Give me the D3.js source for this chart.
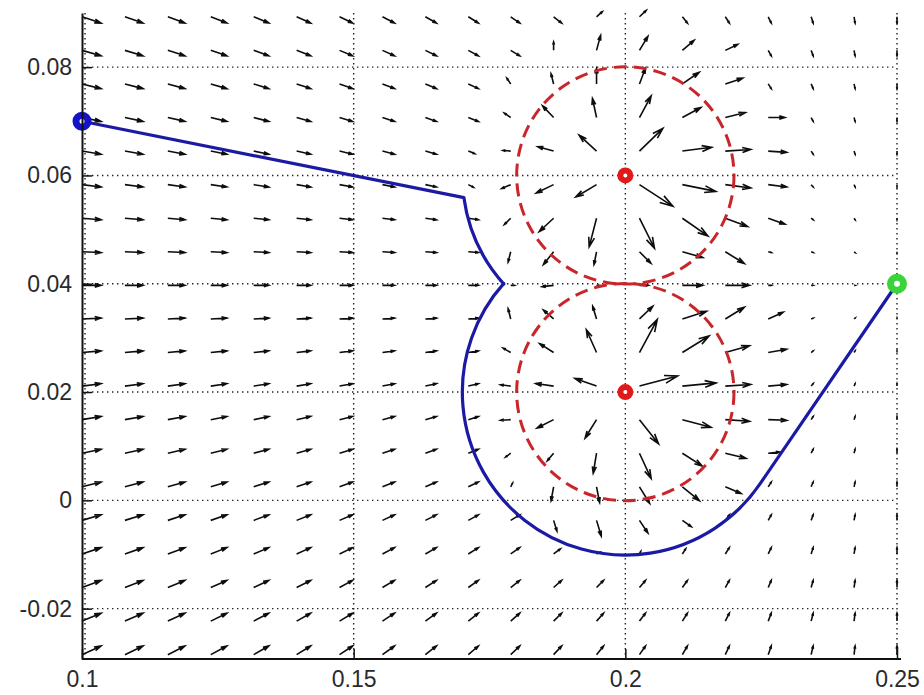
<!DOCTYPE html>
<html>
<head>
<meta charset="utf-8">
<script src="https://cdn.jsdelivr.net/npm/d3@7"></script>
<style>
  html, body { margin: 0; padding: 0; background: #fff; }
  svg { display: block; }
  .tick text { font-family: "Liberation Sans", Arial, sans-serif; font-size: 23px; fill: #2a2a2a; }
</style>
</head>
<body>
<svg id="chart" width="924" height="695"></svg>
<script>
// quiver grid (tail positions)
const xGrid = [0.1, 0.1079, 0.1158, 0.1237, 0.1316, 0.1395, 0.1474, 0.1553, 0.1632, 0.1711,
  0.1789, 0.1868, 0.1947, 0.2026, 0.2105, 0.2184, 0.2263, 0.2342, 0.2421, 0.25];
const yGrid = [0.0893, 0.0831, 0.0769, 0.0707, 0.0645, 0.0583, 0.0521, 0.0459, 0.0397, 0.0335,
  0.0273, 0.0211, 0.0149, 0.0087, 0.0025, -0.0037, -0.0099, -0.0161, -0.0223, -0.0285];

// far-field components: u per column, v per row
const uCol = [0.15, 0.1421, 0.1342, 0.1263, 0.1184, 0.1105, 0.1026, 0.0947, 0.0868, 0.0789,
  0.0711, 0.0632, 0.0553, 0.0474, 0.0395, 0.0316, 0.0237, 0.0158, 0.0079, 0];
const vRow = [-0.0493, -0.0431, -0.0369, -0.0307, -0.0245, -0.0183, -0.0121, -0.0059, 0.0003, 0.0065,
  0.0127, 0.0189, 0.0251, 0.0313, 0.0375, 0.0437, 0.0499, 0.0561, 0.0623, 0.0685];

// arrows around the obstacles: [col, row, u, v]
const nearField = [
  [9, 4, 0.05, -0.02], [9, 5, 0.04, -0.02],
  [10, 2, -0.03, 0.045], [10, 3, -0.05, 0.035], [10, 4, -0.06, 0.005], [10, 5, -0.07, -0.03],
  [10, 6, -0.05, -0.05], [10, 7, -0.02, -0.08], [10, 8, 0.03, 0], [10, 9, -0.02, 0.08],
  [10, 10, -0.06, 0.035], [10, 11, -0.08, 0.01], [10, 12, -0.08, -0.005], [10, 13, -0.04, -0.03],
  [10, 14, 0.015, 0.03],
  [11, 1, 0, 0.066], [11, 2, -0.02, 0.08], [11, 3, -0.087, 0.092], [11, 4, -0.124, 0.034],
  [11, 5, -0.137, -0.066], [11, 6, -0.113, -0.105], [11, 7, -0.08, -0.1], [11, 8, -0.09, -0.01],
  [11, 9, -0.08, 0.07], [11, 10, -0.11, 0.07], [11, 11, -0.14, 0.02], [11, 12, -0.13, -0.066],
  [11, 13, -0.05, -0.06], [11, 14, -0.02, -0.11], [11, 15, 0.026, -0.084], [11, 16, 0.053, 0.04],
  [12, 0, 0.045, 0.04], [12, 1, 0.032, 0.118], [12, 2, 0, 0.124], [12, 3, -0.032, 0.15],
  [12, 4, -0.137, 0.126], [12, 5, -0.163, -0.097], [12, 6, -0.058, -0.226], [12, 7, -0.02, -0.1],
  [12, 8, 0.02, 0], [12, 9, -0.03, 0.1], [12, 10, -0.08, 0.18], [12, 11, -0.17, 0.06],
  [12, 12, -0.09, -0.145], [12, 13, -0.026, -0.158], [12, 14, 0.024, -0.124], [12, 15, 0.037, -0.124],
  [12, 16, 0.026, 0.013],
  [13, 0, 0.053, 0.05], [13, 1, 0.066, 0.111], [13, 2, 0.047, 0.124], [13, 3, 0.092, 0.171],
  [13, 4, 0.184, 0.179], [13, 5, 0.263, -0.171], [13, 6, 0.118, -0.237], [13, 7, 0.09, -0.09],
  [13, 8, 0.07, 0], [13, 9, 0.105, 0.1], [13, 10, 0.14, 0.26], [13, 11, 0.3, 0.08],
  [13, 12, 0.15, -0.19], [13, 13, 0.092, -0.2], [13, 14, 0.08, -0.13], [13, 15, 0.066, -0.1],
  [13, 16, 0.01, 0.02],
  [14, 1, 0.092, 0.079], [14, 2, 0.132, 0.092], [14, 3, 0.145, 0.079], [14, 4, 0.23, 0.03],
  [14, 5, 0.263, -0.053], [14, 6, 0.2, -0.14], [14, 7, 0.16, -0.045], [14, 8, 0.16, 0],
  [14, 9, 0.19, 0.06], [14, 10, 0.21, 0.13], [14, 11, 0.265, 0.025], [14, 12, 0.225, -0.06],
  [14, 13, 0.155, -0.1], [14, 14, 0.134, -0.11], [14, 15, 0.07, -0.05], [14, 16, 0.026, 0.04],
  [15, 1, 0.097, 0.047], [15, 2, 0.137, 0.045], [15, 3, 0.158, 0.039], [15, 4, 0.2, 0.013],
  [15, 5, 0.2, -0.026], [15, 6, 0.176, -0.066], [15, 7, 0.15, -0.092], [15, 8, 0.19, 0],
  [15, 9, 0.15, 0.092], [15, 10, 0.19, 0.053], [15, 11, 0.2, 0.013], [15, 12, 0.19, -0.013],
  [15, 13, 0.163, -0.04], [15, 14, 0.124, -0.053],
  [16, 3, 0.13, 0], [16, 4, 0.145, -0.01], [16, 5, 0.145, -0.018], [16, 6, 0.132, -0.047],
  [16, 9, 0.118, 0.053], [16, 10, 0.145, 0.026], [16, 11, 0.145, 0.013], [16, 12, 0.145, -0.005],
  [16, 13, 0.09, 0.01]
];

// obstacles (centre x, centre y), dashed radius
const obstacleX = [0.2, 0.2];
const obstacleY = [0.06, 0.02];
const obstacleR = 0.02;

// path: start, first contact, arcs [cx, cy, r, fromDeg, toDeg], goal
const startPt = [0.1, 0.07];
const contactPt = [0.1703, 0.0559];
const pathArcs = [
  [0.2, 0.06, 0.03, 187.8, 221.8],
  [0.2, 0.02, 0.03, 138.2, 325.7]
];
const goalPt = [0.25, 0.04];

const xTicks = [0.1, 0.15, 0.2, 0.25];
const xTickLabels = ["0.1", "0.15", "0.2", "0.25"];
const yTicks = [-0.02, 0, 0.02, 0.04, 0.06, 0.08];
const yTickLabels = ["-0.02", "0", "0.02", "0.04", "0.06", "0.08"];

const svg = d3.select("#chart");
const plotL = 82, plotR = 897, plotT = 13, plotB = 659;

const x = d3.scaleLinear().domain([0.1, 0.25]).range([plotL, plotR]);
const y = d3.scaleLinear().domain([-0.0293, 0.09]).range([plotB, plotT]);

const ARROW_SCALE = 0.0234; // quiver autoscale factor
const HEAD_A = 0.33, HEAD_B = 0.3;

// grid
const grid = svg.append("g")
  .attr("stroke", "#222")
  .attr("stroke-width", 1.4)
  .attr("stroke-dasharray", "1.4,3.6");
grid.selectAll("line.gx")
  .data(xTicks)
  .enter().append("line")
  .attr("x1", (d, i) => x(d) + (i === 0 ? 3 : 0))
  .attr("x2", (d, i) => x(d) + (i === 0 ? 3 : 0))
  .attr("y1", plotT).attr("y2", plotB);
grid.selectAll("line.gy")
  .data(yTicks)
  .enter().append("line")
  .attr("x1", plotL).attr("x2", plotR)
  .attr("y1", d => y(d)).attr("y2", d => y(d));

// quiver
const override = new Map(nearField.map(d => [d[0] + "," + d[1], [d[2], d[3]]]));
const arrows = [];
yGrid.forEach((gy, r) => {
  xGrid.forEach((gx, c) => {
    const uv = override.get(c + "," + r) || [uCol[c], vRow[r]];
    arrows.push({ x: gx, y: gy, u: uv[0] * ARROW_SCALE, v: uv[1] * ARROW_SCALE });
  });
});

function arrowPath(d) {
  const x0 = x(d.x), y0 = y(d.y);
  const x1 = x(d.x + d.u), y1 = y(d.y + d.v);
  const du = x1 - x0, dv = y1 - y0;
  const h1 = [x1 - HEAD_A * (du + HEAD_B * dv), y1 - HEAD_A * (dv - HEAD_B * du)];
  const h2 = [x1 - HEAD_A * (du - HEAD_B * dv), y1 - HEAD_A * (dv + HEAD_B * du)];
  return "M" + x0 + "," + y0 + "L" + x1 + "," + y1 +
    "M" + h1[0] + "," + h1[1] + "L" + x1 + "," + y1 + "L" + h2[0] + "," + h2[1];
}

svg.append("g")
  .selectAll("path")
  .data(arrows)
  .enter().append("path")
  .attr("d", arrowPath)
  .attr("fill", "none")
  .attr("stroke", "#0d0d0d")
  .attr("stroke-width", 1.6)
  .attr("stroke-linejoin", "miter");

// obstacle boundaries
svg.append("g")
  .selectAll("circle")
  .data(obstacleX)
  .enter().append("circle")
  .attr("cx", d => x(d))
  .attr("cy", (d, i) => y(obstacleY[i]))
  .attr("r", x(0.1 + obstacleR) - x(0.1))
  .attr("fill", "none")
  .attr("stroke", "#c8262a")
  .attr("stroke-width", 3)
  .attr("stroke-dasharray", "13,7");

// robot path
const p = d3.path();
p.moveTo(x(startPt[0]), y(startPt[1]));
p.lineTo(x(contactPt[0]), y(contactPt[1]));
pathArcs.forEach(a => {
  const rad = x(0.1 + a[2]) - x(0.1);
  p.arc(x(a[0]), y(a[1]), rad, -a[3] * Math.PI / 180, -a[4] * Math.PI / 180, true);
});
p.lineTo(x(goalPt[0]), y(goalPt[1]));

svg.append("path")
  .attr("d", p.toString())
  .attr("fill", "none")
  .attr("stroke", "#1a1aa4")
  .attr("stroke-width", 3.2)
  .attr("stroke-linejoin", "round");

// markers
const markers = [
  { p: startPt, c: "#1414c4", r: 6, w: 7 },
  { p: [obstacleX[0], obstacleY[0]], c: "#e01a1a", r: 5, w: 6 },
  { p: [obstacleX[1], obstacleY[1]], c: "#e01a1a", r: 5, w: 6 },
  { p: goalPt, c: "#3ad43a", r: 6.5, w: 7 }
];
svg.append("g")
  .selectAll("circle")
  .data(markers)
  .enter().append("circle")
  .attr("cx", d => x(d.p[0]))
  .attr("cy", d => y(d.p[1]))
  .attr("r", d => d.r)
  .attr("fill", "#fff")
  .attr("stroke", d => d.c)
  .attr("stroke-width", d => d.w);

// axes
const xAxis = d3.axisBottom(x)
  .tickValues(xTicks)
  .tickFormat((d, i) => xTickLabels[i])
  .tickSizeInner(-10)
  .tickSizeOuter(0)
  .tickPadding(12);
const yAxis = d3.axisLeft(y)
  .tickValues(yTicks)
  .tickFormat((d, i) => yTickLabels[i])
  .tickSizeInner(-10)
  .tickSizeOuter(0)
  .tickPadding(10);

const gx = svg.append("g").attr("transform", "translate(0," + plotB + ")").call(xAxis);
const gy = svg.append("g").attr("transform", "translate(" + plotL + ",0)").call(yAxis);
[gx, gy].forEach(g => {
  g.select(".domain").attr("stroke", "#111").attr("stroke-width", 2);
  g.selectAll(".tick line").attr("stroke", "#111").attr("stroke-width", 1.5);
});
gx.select(".domain").attr("d", "M" + plotL + ",0H" + (plotR + 4));
</script>
</body>
</html>
